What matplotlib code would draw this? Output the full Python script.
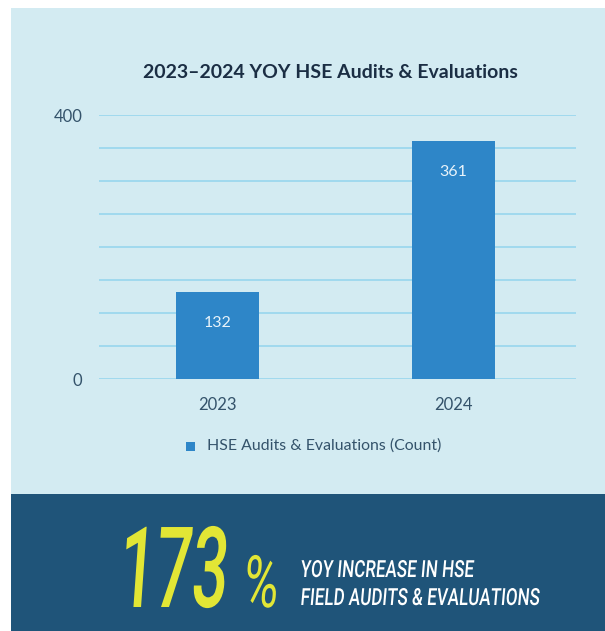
import matplotlib
matplotlib.use('Agg')
import matplotlib.pyplot as plt
from matplotlib.patches import Rectangle
from matplotlib.patheffects import AbstractPathEffect
from matplotlib.transforms import Affine2D

# ── Data ─────────────────────────────────────────────────────────────────────
years = ['2023', '2024']
audits = [132, 361]
series_name = 'HSE Audits & Evaluations (Count)'
title = '2023\u20132024 YOY HSE Audits & Evaluations'
yoy_pct = '173'
yoy_lines = ['YOY INCREASE IN HSE', 'FIELD AUDITS & EVALUATIONS']

# ── Colours ──────────────────────────────────────────────────────────────────
PANEL = '#d3ebf2'
DARK = '#1f5479'
BAR = '#2e86c8'
GRID = '#93d4ee'
TITLE = '#1b2e44'
TICK = '#34536b'
YELLOW = '#e2e635'

W, H = 605, 631
fig = plt.figure(figsize=(W / 100, H / 100), dpi=100, facecolor='white')


def fx(x):
    return x / W


def fy(y):
    return 1 - y / H


class Squeeze(AbstractPathEffect):
    """Narrow (and optionally slant) glyphs to fake a condensed italic face."""
    def __init__(self, sx=0.6, skew=0):
        super().__init__()
        self.sx = sx
        self.skew = skew

    def draw_path(self, renderer, gc, tpath, affine, rgbFace=None):
        t = Affine2D().skew_deg(self.skew, 0).scale(self.sx, 1) + affine
        renderer.draw_path(gc, tpath, t, rgbFace)


# panels (behind everything)
fig.patches.append(Rectangle((fx(11), fy(494)), fx(605) - fx(11), fy(8) - fy(494),
                             transform=fig.transFigure, facecolor=PANEL,
                             edgecolor='none', zorder=-2))
fig.patches.append(Rectangle((fx(11), 0), fx(605) - fx(11), fy(494),
                             transform=fig.transFigure, facecolor=DARK,
                             edgecolor='none', zorder=-2))

# ── Bar chart ────────────────────────────────────────────────────────────────
ax = fig.add_axes([fx(99), fy(379), fx(576) - fx(99), fy(115) - fy(379)])
ax.set_facecolor('none')
ax.set_xlim(-0.502, 1.519)
ax.set_ylim(0, 400)
for v in range(0, 401, 50):
    ax.axhline(v, color=GRID, lw=1.1, zorder=1)

x = range(len(years))
bars = ax.bar(x, audits, width=0.352, color=BAR, zorder=2, label=series_name)
for b, v in zip(bars, audits):
    ax.text(b.get_x() + b.get_width() / 2, v - 47, str(v), ha='center', va='center',
            color='#e8f3fa', fontsize=11.5, family='Lato', zorder=3)

for s in ax.spines.values():
    s.set_visible(False)
ax.set_yticks([0, 400])
ax.set_yticklabels(['0', '400'], family='Lato', fontsize=12, color=TICK)
ax.set_xticks(list(x))
ax.set_xticklabels(years, family='Lato', fontsize=12, color=TICK)
ax.tick_params(axis='both', length=0)
ax.tick_params(axis='y', pad=12)
ax.tick_params(axis='x', pad=13)

fig.text(fx(330), fy(72), title, ha='center', va='center', fontsize=14,
         fontweight='bold', family='Lato', color=TITLE)

# legend
fig.patches.append(Rectangle((fx(186), fy(451)), fx(9), fx(9) * W / H,
                             transform=fig.transFigure, facecolor=BAR, edgecolor='none'))
fig.text(fx(207), fy(446), series_name, ha='left', va='center', fontsize=11.4,
         family='Lato', color=TICK)

# ── Callout ──────────────────────────────────────────────────────────────────
fig.text(fx(117), fy(607), yoy_pct, ha='left', va='baseline', fontsize=81,
         family='Roboto', fontweight='medium', color=YELLOW,
         path_effects=[Squeeze(0.57, 7)])
fig.text(fx(242), fy(607), '%', ha='left', va='baseline', fontsize=52,
         family='Roboto', color=YELLOW,
         path_effects=[Squeeze(0.66, 7)])
fig.text(fx(300), fy(577), yoy_lines[0], ha='left', va='baseline', fontsize=17,
         family='Roboto', fontweight='medium', color='white',
         path_effects=[Squeeze(0.72, 7)])
fig.text(fx(300), fy(605), yoy_lines[1], ha='left', va='baseline', fontsize=17,
         family='Roboto', fontweight='medium', color='white',
         path_effects=[Squeeze(0.72, 7)])

fig.savefig('out.png', dpi=100, facecolor='white')
